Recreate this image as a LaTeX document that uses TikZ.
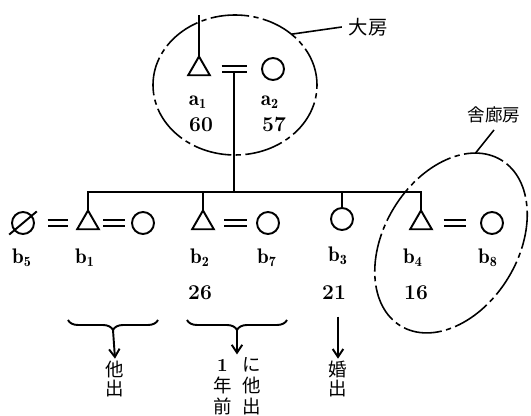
\documentclass[tikz,border=0pt]{standalone}
\usepackage{amsmath}
\usepackage{fontspec}
\newfontfamily\jp{Noto Sans CJK JP}
\usetikzlibrary{shapes.geometric,decorations.pathreplacing,arrows.meta}

\begin{document}
\begin{tikzpicture}[
    line width=1.1pt,
    male/.style={draw, regular polygon, regular polygon sides=3, minimum size=0.50cm, inner sep=0pt, outer sep=0pt},
    female/.style={draw, circle, minimum size=0.44cm, inner sep=0pt, outer sep=0pt},
    marry/.style={double, double distance=2.2pt, shorten <=0.28cm, shorten >=0.28cm},
    house/.style={draw, ellipse, line width=0.9pt, dash pattern=on 22pt off 2.5pt on 3pt off 2.5pt, inner sep=0pt, outer sep=0pt},
    idlabel/.style={font=\fontsize{12}{14}\selectfont},
    agelabel/.style={font=\fontsize{12}{14}\selectfont\bfseries},
    jtext/.style={font=\jp\fontsize{10.5}{10.4}\selectfont, align=center, inner sep=1pt},
    leave/.style={-{Straight Barb[length=4.5pt,width=6pt]}},
  ]
    \useasboundingbox (0,0) rectangle (10.62,-8.32);

    % the two houses
    \node[house, minimum width=3.28cm, minimum height=2.80cm] (daebang) at (4.70,-1.70) {};
    \node[house, minimum width=3.88cm, minimum height=2.68cm, rotate=58.75] (sarang) at (9.02,-4.86) {};
    \node[font=\jp\fontsize{11}{13}\selectfont] (daebangtxt) at (7.36,-0.54) {大房};
    \node[font=\jp\fontsize{10}{12}\selectfont] (sarangtxt) at (9.88,-2.30) {舎廊房};
    \draw[line width=0.9pt] (daebang.42) -- (daebangtxt.west);
    \draw[line width=0.9pt] (sarang.16) -- (sarangtxt.south);

    % generation a
    \node[male]   (a1) at (3.98,-1.38) {};
    \node[female] (a2) at (5.46,-1.38) {};
    \node[idlabel]  (la1) at (3.96,-2.04) {$\mathbf{a}_{\mathbf{1}}$};
    \node[idlabel]  (la2) at (5.40,-2.04) {$\mathbf{a}_{\mathbf{2}}$};
    \node[agelabel] (ga1) at (4.02,-2.50) {60};
    \node[agelabel] (ga2) at (5.48,-2.50) {57};
    \coordinate (a1up) at (3.98,-0.30);
    \draw (a1.north) -- (a1up);

    % generation b
    \node[female] (b5) at (0.46,-4.46) {};
    \node[male]   (b1) at (1.76,-4.46) {};
    \node[female] (c1) at (2.86,-4.46) {};
    \node[male]   (b2) at (4.06,-4.46) {};
    \node[female] (b7) at (5.36,-4.46) {};
    \node[female] (b3) at (6.84,-4.38) {};
    \node[male]   (b4) at (8.42,-4.46) {};
    \node[female] (b8) at (9.84,-4.46) {};
    \draw[shorten <=-0.14cm, shorten >=-0.14cm] (b5.220) -- (b5.40);

    \node[idlabel] (lb5) at (0.44,-5.16) {$\mathbf{b}_{\mathbf{5}}$};
    \node[idlabel] (lb1) at (1.70,-5.16) {$\mathbf{b}_{\mathbf{1}}$};
    \node[idlabel] (lb2) at (4.00,-5.16) {$\mathbf{b}_{\mathbf{2}}$};
    \node[idlabel] (lb7) at (5.34,-5.16) {$\mathbf{b}_{\mathbf{7}}$};
    \node[idlabel] (lb3) at (6.76,-5.12) {$\mathbf{b}_{\mathbf{3}}$};
    \node[idlabel] (lb4) at (8.26,-5.16) {$\mathbf{b}_{\mathbf{4}}$};
    \node[idlabel] (lb8) at (9.76,-5.16) {$\mathbf{b}_{\mathbf{8}}$};
    \node[agelabel] (g2) at (4.00,-5.86) {26};
    \node[agelabel] (g3) at (6.68,-5.86) {21};
    \node[agelabel] (g4) at (8.32,-5.86) {16};

    % descent lines
    \coordinate (bar) at (4.74,-3.84);
    \path (a1) -- coordinate[midway] (am) (a2);
    \draw (am) -- (am |- bar);
    \draw (b1.north) |- (bar) -| (b4.north);
    \draw (b2.north) -- (b2.north |- bar);
    \draw (b3.north) -- (b3.north |- bar);

    % marriages
    \draw[marry, shorten <=0.31cm, shorten >=0.30cm] (a1) -- (a2);
    \draw[marry, shorten <=0.27cm, shorten >=0.26cm] (b5) -- (b1);
    \draw[marry, shorten <=0.16cm, shorten >=0.14cm] (b1) -- (c1);
    \draw[marry, shorten <=0.28cm, shorten >=0.20cm] (b2) -- (b7);
    \draw[marry, shorten <=0.31cm, shorten >=0.31cm] (b4) -- (b8);

    % who left
    \draw[decorate, decoration={brace, mirror, amplitude=0.2cm}] (1.36,-6.40) -- (3.16,-6.40);
    \draw[decorate, decoration={brace, mirror, amplitude=0.2cm}] (3.74,-6.40) -- (5.74,-6.40);
    \coordinate (tip1) at (2.26,-6.60);
    \coordinate (tip2) at (4.74,-6.60);
    \node[jtext] (out1) at (2.30,-7.58) {他\\出};
    \node[jtext] (out2) at (4.74,-7.76) {\begin{tabular}{@{}c@{\hspace{6pt}}c@{}}{\rmfamily\bfseries 1} & に\\ 年 & 他\\ 前 & 出\end{tabular}};
    \node[jtext] (wed3) at (6.76,-7.58) {婚\\出};
    \draw[leave] (tip1) -- (out1.north);
    \draw[leave] (tip2) -- (out2.north);
    \draw[leave, shorten <=0.2cm] (wed3.north |- g3.south) -- (wed3.north);
  \end{tikzpicture}
\end{document}
